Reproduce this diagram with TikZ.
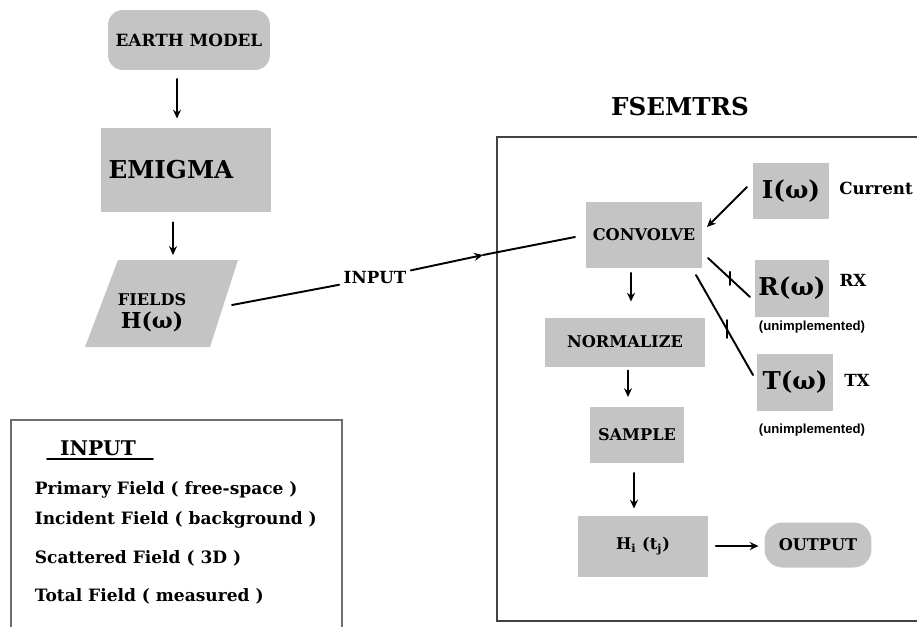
\documentclass[tikz,border=0pt]{standalone}
\usepackage{fontspec}
\setmainfont{DejaVu Serif}
\newfontfamily\notefont{Liberation Sans}
\usetikzlibrary{arrows.meta}
\definecolor{boxgray}{RGB}{196,196,196}
\definecolor{framegray}{RGB}{110,110,110}
\begin{document}
\begin{tikzpicture}[x=0.02cm, y=-0.02cm, font=\bfseries, line width=1.1pt, line cap=round, >={Stealth[length=5pt,width=4.5pt]},
    blk/.style={fill=boxgray, inner sep=0pt, font=\bfseries\fontsize{9.2}{11}\selectfont},
    rnd/.style={blk, rounded corners=0.3cm},
    big/.style={font=\bfseries\fontsize{14}{16}\selectfont},
    lbl/.style={font=\bfseries\fontsize{9.5}{11}\selectfont},
    note/.style={font=\notefont\bfseries\fontsize{7.5}{9}\selectfont},
    item/.style={anchor=west, font=\bfseries\fontsize{9.7}{11}\selectfont}]
\useasboundingbox (0,0) rectangle (917,626);
% left chain
\node[rnd, minimum width=3.24cm, minimum height=1.2cm, font=\bfseries\fontsize{9.6}{11}\selectfont] (earth) at (189,40) {EARTH MODEL};
\node[blk, big, minimum width=3.4cm, minimum height=1.7cm, text width=3.1cm] (emigma) at (186,170) {EMIGMA};
\fill[boxgray] (118,260) -- (238,260) -- (210,347) -- (85,347) -- cycle;
\node[blk, fill=none, align=center] (fields) at (152,313) {FIELDS\\[2pt]{\fontsize{12.5}{14}\selectfont H(ω)}};
\coordinate (fieldsout) at (232,305);
\draw[->] ([xshift=-0.24cm,yshift=-0.16cm]earth.south) -- ([xshift=-0.18cm,yshift=0.16cm]emigma.north);
\draw[->] ([xshift=-0.26cm,yshift=-0.18cm]emigma.south) -- (173,255);
% FSEMTRS frame
\node[big] (title) at (680,107) {FSEMTRS};
\draw[framegray!60!black, line width=1.3pt] (930,137) -- (497,137) -- (497,621) -- (930,621);
\node[blk, minimum width=2.32cm, minimum height=1.32cm] (convolve) at (644,235) {CONVOLVE};
\node[blk, big, minimum width=1.52cm, minimum height=1.14cm] (iw) at (791,191) {I(ω)};
\node[blk, big, minimum width=1.5cm, minimum height=1.14cm] (rw) at (792,288) {R(ω)};
\node[blk, big, minimum width=1.52cm, minimum height=1.14cm] (tw) at (795,382) {T(ω)};
\node[blk, minimum width=3.2cm, minimum height=0.98cm] (normalize) at (625,342) {NORMALIZE};
\node[blk, minimum width=1.9cm, minimum height=1.12cm] (sample) at (637,435) {SAMPLE};
\node[blk, minimum width=2.6cm, minimum height=1.22cm] (ht) at (643,546) {H\textsubscript{i} (t\textsubscript{j})};
\node[rnd, minimum width=2.14cm, minimum height=0.9cm, rounded corners=0.36cm] (output) at (818,545) {OUTPUT};
\node[lbl] (current) at (876,188) {Current};
\node[lbl] (rx) at (853,280) {RX};
\node[lbl] (tx) at (857,380) {TX};
\node[note] (rnote) at (812,327) {(unimplemented)};
\node[note] (tnote) at (812,430) {(unimplemented)};
% input connector
\node[lbl, inner sep=2pt] (inlbl) at (375,278) {INPUT};
\coordinate (boxin) at (483,255);
\coordinate (convin) at (575,237);
\draw (fieldsout) -- (inlbl);
\draw[->] (inlbl) -- (boxin);
\draw (boxin) -- (convin);
% flow inside
\draw[->] (747,187) -- (707,227);
\draw (708,258) -- coordinate[pos=.52] (rtick) (750,297);
\draw ([yshift=0.13cm]rtick) -- ([yshift=-0.13cm]rtick);
\draw (696,275) -- coordinate[pos=.54] (ttick) (753,375);
\draw ([yshift=0.18cm]ttick) -- ([yshift=-0.18cm]ttick);
\draw[->] ([xshift=-0.26cm,yshift=-0.08cm]convolve.south) -- ([xshift=0.12cm,yshift=0.3cm]normalize.north);
\draw[->] ([xshift=0.06cm,yshift=-0.06cm]normalize.south) -- ([xshift=-0.18cm,yshift=0.18cm]sample.north);
\draw[->] ([xshift=-0.06cm,yshift=-0.18cm]sample.south) -- ([xshift=-0.18cm,yshift=0.12cm]ht.north);
\draw[->] ([xshift=0.14cm]ht.east) -- ([xshift=-0.1cm]ht.east -| output.west);
% legend
\draw[framegray, line width=1.2pt] (11,640) -- (11,420) -- (342,420) -- (342,640);
\node[font=\bfseries\fontsize{11.5}{13}\selectfont] (lhead) at (98,448) {INPUT};
\draw (47,459) -- (153,459);
\foreach \t/\y in {Primary Field ( free-space )/490, Incident Field ( background )/520, Scattered Field ( 3D )/558, Total Field ( measured )/596}
  \node[item] at (28,\y) {\t};
\end{tikzpicture}
\end{document}
